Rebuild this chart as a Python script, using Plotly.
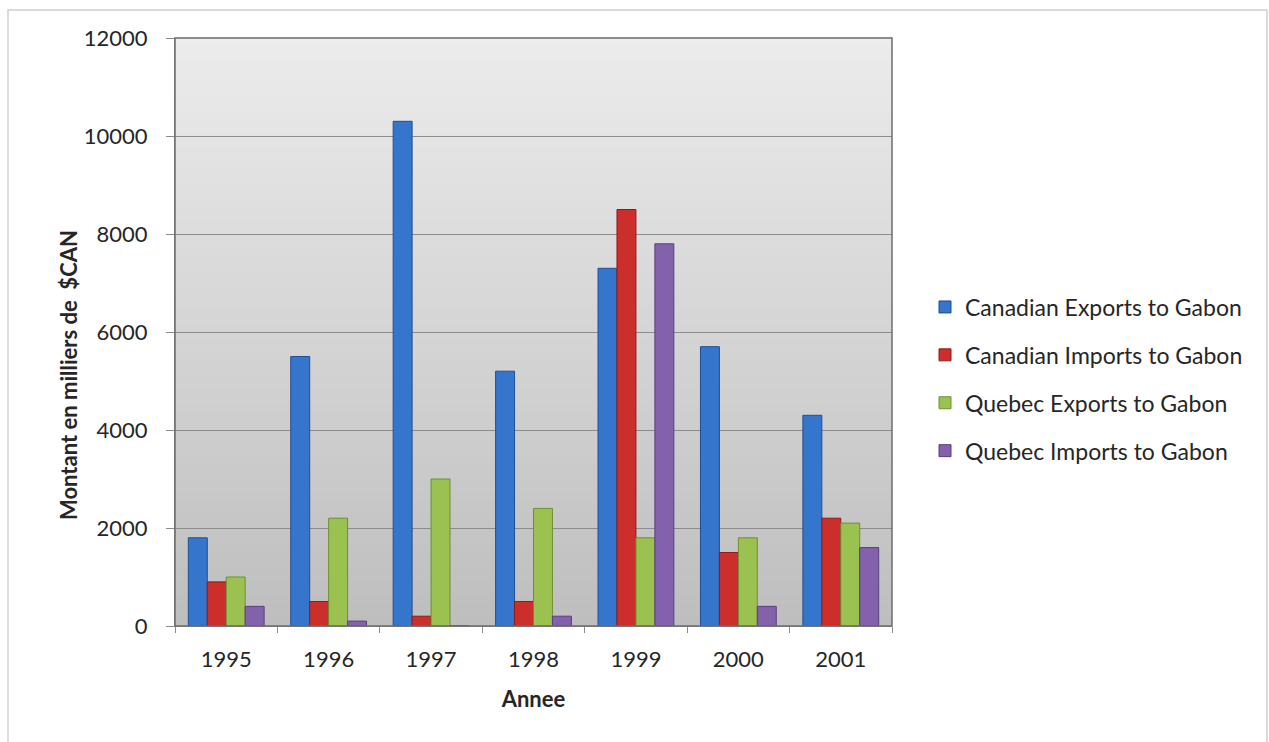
import plotly.graph_objects as go

# Trade between Canada/Quebec and Gabon, thousands of CAN$
years = ["1995", "1996", "1997", "1998", "1999", "2000", "2001"]
canadian_exports = [1800, 5500, 10300, 5200, 7300, 5700, 4300]
canadian_imports = [900, 500, 200, 500, 8500, 1500, 2200]
quebec_exports = [1000, 2200, 3000, 2400, 1800, 1800, 2100]
quebec_imports = [400, 100, 0, 200, 7800, 400, 1600]

series_names = [
    "Canadian Exports to Gabon",
    "Canadian Imports to Gabon",
    "Quebec Exports to Gabon",
    "Quebec Imports to Gabon",
]
series_values = [canadian_exports, canadian_imports, quebec_exports, quebec_imports]
fill_colors = ["#3575cc", "#cc2f2b", "#9bc250", "#8361ad"]
edge_colors = ["#1f4f94", "#8e1b18", "#6d8f34", "#573f7d"]

W, H = 1269, 742
ML, MR, MT, MB = 175, 377, 38, 116
PW, PH = W - ML - MR, H - MT - MB

FONT = "Lato, 'Open Sans', sans-serif"
TXT = "#262626"

fig = go.Figure()
for i, (name, vals) in enumerate(zip(series_names, series_values)):
    fig.add_trace(go.Bar(
        x=years, y=vals, name=name, legendgroup=name,
        marker=dict(color=fill_colors[i], line=dict(color=edge_colors[i], width=1)),
    ))


def px_x(p):
    return (p - ML) / PW


def px_y(p):
    return (H - MB - p) / PH


shapes = []
# vertical gradient behind the plotting area
steps = 80
top_c, bot_c = (236, 236, 236), (190, 190, 190)
for k in range(steps):
    t = (k + 0.5) / steps
    c = tuple(round(top_c[j] + (bot_c[j] - top_c[j]) * t) for j in range(3))
    shapes.append(dict(
        type="rect", xref="paper", yref="paper", layer="below",
        x0=0, x1=1, y0=1 - (k + 1) / steps, y1=1 - k / steps + 0.002,
        fillcolor="rgb(%d,%d,%d)" % c, line=dict(width=0),
    ))
# frame of the plotting area
shapes.append(dict(type="rect", xref="paper", yref="paper", x0=0, x1=1, y0=0, y1=1,
                   line=dict(color="#6e6e6e", width=1.5), layer="above"))
# outer chart border
shapes.append(dict(type="rect", xref="paper", yref="paper",
                   x0=px_x(8), x1=px_x(1267), y0=px_y(760), y1=px_y(10),
                   line=dict(color="#cfcfcf", width=1.5), layer="below"))

fig.update_layout(
    width=W, height=H,
    margin=dict(l=ML, r=MR, t=MT, b=MB, autoexpand=False),
    paper_bgcolor="white",
    plot_bgcolor="rgba(0,0,0,0)",
    barmode="group",
    bargap=0.26,
    bargroupgap=0,
    shapes=shapes,
    font=dict(family=FONT, color=TXT),
    legend=dict(
        x=px_x(925), y=px_y(379), xanchor="left", yanchor="middle",
        font=dict(size=23, family=FONT, color=TXT),
        tracegroupgap=15, bgcolor="rgba(0,0,0,0)",
    ),
    showlegend=True,
    annotations=[dict(
        text="<b>Montant en milliers de  $CAN</b>", textangle=-90,
        xref="paper", yref="paper", x=px_x(68), y=px_y(375),
        xanchor="center", yanchor="middle", showarrow=False,
        font=dict(size=22, family=FONT, color=TXT),
    )],
)

fig.update_xaxes(
    type="category",
    tickfont=dict(size=22, family=FONT, color=TXT),
    ticks="outside", tickson="boundaries", ticklen=6, tickcolor="#8c8c8c",
    ticklabelstandoff=14,
    showline=True, linecolor="#8c8c8c", linewidth=1,
    title=dict(text="<b>Annee</b>", font=dict(size=22, family=FONT, color=TXT), standoff=20),
    showgrid=False,
)
fig.update_yaxes(
    range=[0, 12000], dtick=2000, tickformat="d",
    tickfont=dict(size=22, family=FONT, color=TXT),
    ticks="outside", ticklen=8, tickcolor="#8c8c8c",
    ticklabelstandoff=14,
    showline=True, linecolor="#8c8c8c", linewidth=1,
    showgrid=True, gridcolor="#8c8c8c", gridwidth=1,
    zeroline=False,
)

fig.write_html("out.html")
